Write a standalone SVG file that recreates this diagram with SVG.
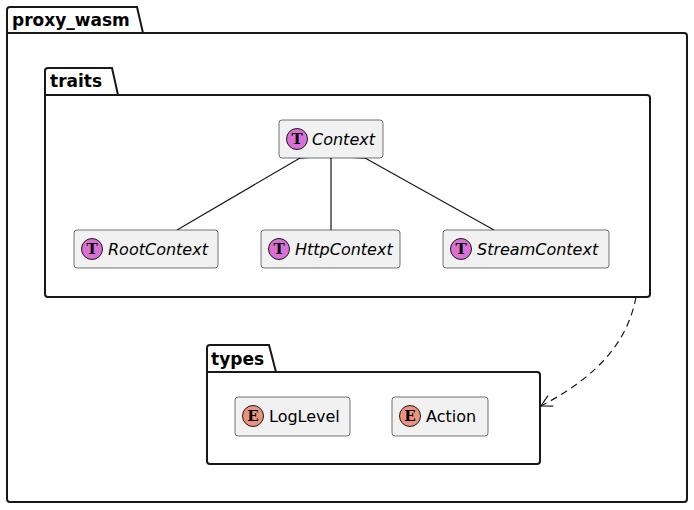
<svg xmlns="http://www.w3.org/2000/svg" width="694" height="510" viewBox="0 0 694 510">
<style>
.pkg{fill:#fff;stroke:#181818;stroke-width:2}
.pt{font:bold 17px "DejaVu Sans",sans-serif;fill:#000}
.cls{fill:#f1f1f1;stroke:#181818;stroke-width:0.6}
.nm{font:italic 16px "DejaVu Sans",sans-serif;fill:#000}
.en{font:16px "DejaVu Sans",sans-serif;fill:#000}
.ct{fill:#da70d6;stroke:#181818;stroke-width:1}
.ce{fill:#eb937f;stroke:#181818;stroke-width:1}
.ic{font:bold 15px "DejaVu Serif",serif;fill:#000;text-anchor:middle}
.ln{stroke:#181818;stroke-width:1.2;fill:none}
</style>
<defs>
<marker id="tri" markerWidth="20" markerHeight="20" refX="0" refY="8" orient="auto" markerUnits="userSpaceOnUse" viewBox="-1 -1 20 20"><path d="M0,8 L-0,8 M0,0 L16,8 L0,16 Z" transform="translate(16,0) scale(-1,1)" fill="#fff" stroke="#181818" stroke-width="1.2"/></marker>
<marker id="open" markerWidth="16" markerHeight="16" refX="12" refY="6" orient="auto" markerUnits="userSpaceOnUse"><path d="M1,0 L12,6 L1,12" fill="none" stroke="#181818" stroke-width="1.2"/></marker>
</defs>
<g id="proxy_wasm">
<path class="pkg" d="M7,33 L7,10 Q7,7 10,7 L137,7 L143,33 L684,33 Q687,33 687,36 L687,499 Q687,502 684,502 L10,502 Q7,502 7,499 Z"/>
<line x1="7" y1="33" x2="143" y2="33" stroke="#181818" stroke-width="2"/>
<text class="pt" x="12" y="26">proxy_wasm</text>
</g>
<g id="traits">
<path class="pkg" d="M45,95 L45,71 Q45,68 48,68 L112,68 L118,95 L647,95 Q650,95 650,98 L650,294 Q650,297 647,297 L48,297 Q45,297 45,294 Z"/>
<line x1="45" y1="95" x2="118" y2="95" stroke="#181818" stroke-width="2"/>
<text class="pt" x="50" y="87">traits</text>
</g>
<g id="types">
<path class="pkg" d="M207,372 L207,348 Q207,345 210,345 L269,345 L276,372 L537,372 Q540,372 540,375 L540,461 Q540,464 537,464 L210,464 Q207,464 207,461 Z"/>
<line x1="207" y1="372" x2="276" y2="372" stroke="#181818" stroke-width="2"/>
<text class="pt" x="211" y="365">types</text>
</g>
<g id="connectors">
<line class="ln" x1="177" y1="230" x2="300" y2="158" marker-end="url(#tri)"/>
<line class="ln" x1="331" y1="230" x2="331" y2="158" marker-end="url(#tri)"/>
<line class="ln" x1="494" y1="230" x2="365" y2="158" marker-end="url(#tri)"/>
<path class="ln" d="M636,297 C628,340 600,375 541,406" stroke-dasharray="7,5" marker-end="url(#open)"/>
</g>
<g id="Context">
<rect class="cls" x="279" y="120" width="104" height="38" rx="3"/>
<circle class="ct" cx="297" cy="139" r="10.5"/><text class="ic" x="297" y="144">T</text>
<text class="nm" x="312" y="145">Context</text>
</g>
<g id="RootContext">
<rect class="cls" x="74" y="230" width="144" height="38" rx="3"/>
<circle class="ct" cx="92" cy="249" r="10.5"/><text class="ic" x="92" y="254">T</text>
<text class="nm" x="108" y="255">RootContext</text>
</g>
<g id="HttpContext">
<rect class="cls" x="261" y="230" width="139" height="38" rx="3"/>
<circle class="ct" cx="279" cy="249" r="10.5"/><text class="ic" x="279" y="254">T</text>
<text class="nm" x="295" y="255">HttpContext</text>
</g>
<g id="StreamContext">
<rect class="cls" x="443" y="230" width="166" height="38" rx="3"/>
<circle class="ct" cx="461" cy="249" r="10.5"/><text class="ic" x="461" y="254">T</text>
<text class="nm" x="477" y="255">StreamContext</text>
</g>
<g id="LogLevel">
<rect class="cls" x="235" y="397" width="115" height="39" rx="3"/>
<circle class="ce" cx="253" cy="416" r="10.5"/><text class="ic" x="253" y="421">E</text>
<text class="en" x="269" y="422">LogLevel</text>
</g>
<g id="Action">
<rect class="cls" x="392" y="397" width="96" height="39" rx="3"/>
<circle class="ce" cx="410" cy="416" r="10.5"/><text class="ic" x="410" y="421">E</text>
<text class="en" x="426" y="422">Action</text>
</g>
</svg>
